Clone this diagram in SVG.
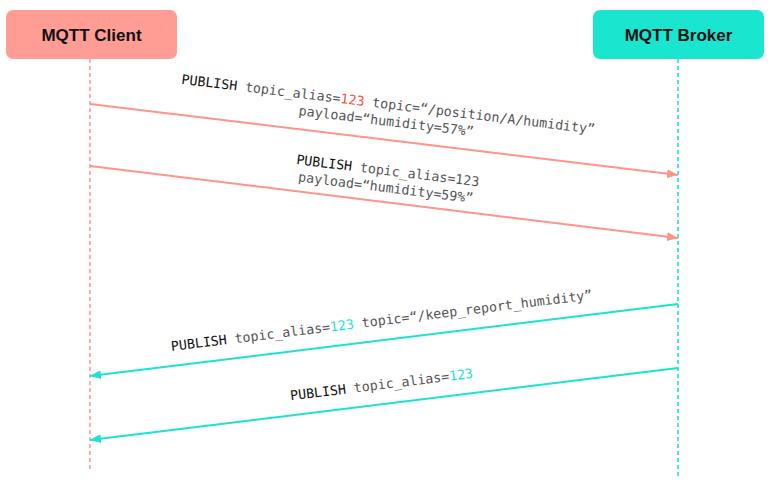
<svg xmlns="http://www.w3.org/2000/svg" width="776" height="484" viewBox="0 0 776 484">
<style>
.nodeText{font-family:"Liberation Sans",Arial,sans-serif;font-weight:bold;font-size:17px;fill:#111;text-anchor:middle}
.lbl{font-family:"DejaVu Sans Mono",Menlo,monospace;font-size:13.3px;fill:#555;text-anchor:middle}
.kw{fill:#111}
.red{fill:#F5503C}
.cy{fill:#1CE3CF}
.life-c{stroke:#FF9C94;stroke-width:1.6;stroke-dasharray:4 3;fill:none}
.life-b{stroke:#1CE3CF;stroke-width:1.6;stroke-dasharray:4 3;fill:none}
.msg-c{stroke:#FF948B;stroke-width:2;fill:none;marker-end:url(#ahC)}
.msg-b{stroke:#1CE3CF;stroke-width:2;fill:none;marker-end:url(#ahB)}
</style>
<defs>
<marker id="ahC" viewBox="0 0 11 9" refX="11" refY="4.5" markerWidth="11" markerHeight="9" markerUnits="userSpaceOnUse" orient="auto">
<path d="M0,0 L11,4.5 L0,9 Z" fill="#FF948B"/>
</marker>
<marker id="ahB" viewBox="0 0 11 9" refX="11" refY="4.5" markerWidth="11" markerHeight="9" markerUnits="userSpaceOnUse" orient="auto">
<path d="M0,0 L11,4.5 L0,9 Z" fill="#1CE3CF"/>
</marker>
</defs>
<rect width="776" height="484" fill="#fff"/>
<g id="client">
<rect x="6" y="10" width="171" height="49" rx="7" fill="#FF9C94"/>
<text class="nodeText" x="91.5" y="41">MQTT Client</text>
</g>
<g id="broker">
<rect x="593" y="10" width="171" height="49" rx="7" fill="#1AE6D0"/>
<text class="nodeText" x="678.5" y="41">MQTT Broker</text>
</g>
<g id="connectors">
<line class="life-c" x1="90" y1="59" x2="90" y2="472"/>
<line class="life-b" x1="678" y1="59" x2="678" y2="476"/>
<line class="msg-c" x1="90" y1="104" x2="678" y2="175"/>
<line class="msg-c" x1="90" y1="166" x2="678" y2="238"/>
<line class="msg-b" x1="678" y1="304" x2="90" y2="376"/>
<line class="msg-b" x1="678" y1="368" x2="90" y2="440"/>
</g>
<g id="labels">
<g transform="translate(384,139.5) rotate(6.9)">
<text class="lbl" y="-31"><tspan class="kw">PUBLISH</tspan> topic_alias=<tspan class="red">123</tspan> topic=“/position/A/humidity”</text>
<text class="lbl" y="-14">payload=“humidity=57%”</text>
</g>
<g transform="translate(384,202) rotate(7)">
<text class="lbl" y="-27"><tspan class="kw">PUBLISH</tspan> topic_alias=123</text>
<text class="lbl" y="-10">payload=“humidity=59%”</text>
</g>
<g transform="translate(384,340) rotate(-7)">
<text class="lbl" y="-15"><tspan class="kw">PUBLISH</tspan> topic_alias=<tspan class="cy">123</tspan> topic=“/keep_report_humidity”</text>
</g>
<g transform="translate(384,404) rotate(-7)">
<text class="lbl" y="-15"><tspan class="kw">PUBLISH</tspan> topic_alias=<tspan class="cy">123</tspan></text>
</g>
</g>
</svg>
